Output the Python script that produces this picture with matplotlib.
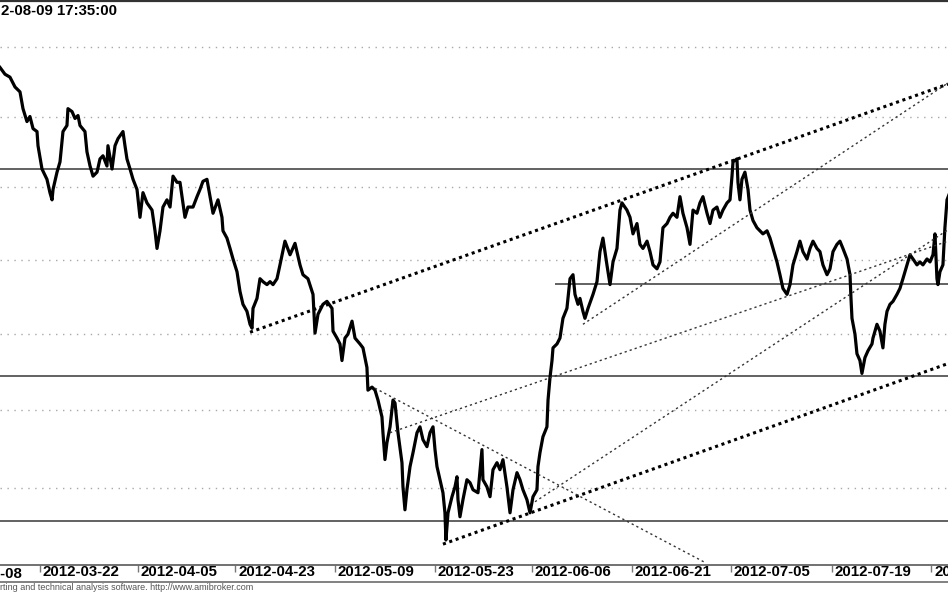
import matplotlib
matplotlib.use("Agg")
import matplotlib.pyplot as plt
from matplotlib.ticker import FixedLocator, NullLocator, NullFormatter
from matplotlib.lines import Line2D
from matplotlib.transforms import blended_transform_factory, ScaledTranslation

# ---- data (x = trading-day index from 2012-03-22, y = index level) ----
t_days = [
    -4.02, -3.52, -3.02, -2.51, -2.01, -1.71, -1.31, -1.01, -0.70, -0.30,
    -0.20, 0.20, 0.70, 1.00, 1.21, 1.31, 1.71, 2.01, 2.31, 2.71,
    2.81, 3.22, 3.52, 3.82, 4.02, 4.52, 4.72, 5.03, 5.33, 5.73,
    6.03, 6.33, 6.73, 6.83, 7.24, 7.54, 7.84, 8.34, 8.54, 8.74,
    9.05, 9.35, 9.75, 10.05, 10.35, 10.75, 11.26, 11.56, 11.76, 12.06,
    12.36, 12.76, 13.07, 13.37, 13.77, 14.07, 14.57, 14.87, 15.38, 15.78,
    16.08, 16.38, 16.78, 17.09, 17.39, 17.89, 18.29, 18.39, 18.79, 19.10,
    19.40, 19.80, 20.10, 20.40, 20.80, 21.11, 21.31, 21.41, 21.81, 22.11,
    22.41, 22.81, 23.12, 23.42, 23.82, 24.12, 24.62, 25.13, 25.63, 26.13,
    26.43, 26.93, 27.44, 27.64, 27.94, 28.44, 28.84, 29.35, 29.45, 29.85,
    30.15, 30.35, 30.65, 30.95, 31.36, 31.66, 32.16, 32.46, 32.86, 32.96,
    33.37, 33.67, 33.97, 34.37, 34.47, 34.67, 34.87, 35.18, 35.48, 35.68,
    35.98, 36.38, 36.48, 36.68, 36.88, 37.19, 37.49, 37.89, 38.19, 38.49,
    38.89, 39.20, 39.50, 39.70, 39.90, 40.20, 40.50, 40.70, 40.80, 41.01,
    41.41, 41.71, 41.91, 42.01, 42.21, 42.51, 42.91, 43.22, 43.52, 44.02,
    44.42, 44.52, 44.92, 45.23, 45.53, 45.93, 46.23, 46.53, 46.93, 47.24,
    47.54, 47.94, 48.24, 48.54, 48.94, 49.25, 49.55, 49.95, 50.05, 50.25,
    50.55, 50.95, 51.06, 51.26, 51.46, 51.56, 51.96, 52.26, 52.56, 52.96,
    53.27, 53.57, 53.77, 54.07, 54.27, 54.57, 54.77, 55.08, 55.58, 55.98,
    56.28, 56.58, 56.98, 57.29, 57.59, 57.99, 58.29, 58.49, 58.99, 59.30,
    59.60, 60.00, 60.30, 60.60, 61.01, 61.31, 61.61, 62.01, 62.31, 62.61,
    63.02, 63.32, 63.62, 64.02, 64.32, 64.62, 65.03, 65.33, 65.63, 66.03,
    66.33, 66.63, 67.04, 67.34, 67.64, 68.04, 68.34, 68.64, 69.05, 69.35,
    69.55, 69.65, 70.05, 70.15, 70.35, 70.55, 70.85, 71.16, 71.36, 71.66,
    72.06, 72.36, 72.66, 73.07, 73.37, 73.67, 74.07, 74.37, 74.67, 75.08,
    75.38, 75.68, 76.08, 76.38, 76.68, 77.09, 77.39, 77.69, 78.09, 78.39,
    78.69, 79.10, 79.40, 79.70, 80.10, 80.40, 80.70, 81.11, 81.41, 81.51,
    81.61, 81.91, 82.11, 82.41, 82.61, 82.91, 83.22, 83.62, 83.72, 84.12,
    84.42, 84.72, 84.92, 85.13, 85.43, 85.73, 86.13, 86.43, 86.73, 87.14,
    87.44, 87.74, 88.14, 88.44, 88.74, 89.15, 89.45, 89.75, 89.95, 90.15,
    90.25, 90.45, 90.75, 90.95, 91.16, 91.36,
]
price = [
    2385.2, 2380.3, 2378.2, 2371.1, 2367.6, 2355.6, 2346.4, 2350.0, 2341.4, 2339.3,
    2329.3, 2312.9, 2305.7, 2296.4, 2291.4, 2298.6, 2310.7, 2317.9, 2339.3, 2343.6,
    2355.6, 2353.5, 2348.6, 2350.7, 2343.6, 2339.3, 2325.0, 2315.0, 2307.9, 2310.7,
    2320.0, 2322.2, 2315.0, 2329.3, 2312.9, 2329.3, 2334.3, 2339.3, 2329.3, 2320.0,
    2312.9, 2305.7, 2298.6, 2279.3, 2296.4, 2289.3, 2284.3, 2270.0, 2257.9, 2270.0,
    2286.4, 2291.4, 2286.4, 2307.9, 2303.6, 2303.6, 2279.3, 2286.4, 2286.4, 2293.6,
    2298.6, 2304.3, 2305.7, 2293.6, 2282.1, 2291.4, 2279.3, 2270.0, 2265.0, 2257.9,
    2250.7, 2242.0, 2228.7, 2220.0, 2215.3, 2206.6, 2204.0, 2217.3, 2224.0, 2237.3,
    2235.3, 2233.3, 2235.3, 2233.3, 2237.3, 2246.7, 2262.9, 2253.6, 2261.4, 2246.7,
    2240.0, 2237.3, 2226.7, 2200.7, 2213.3, 2220.0, 2222.0, 2217.3, 2202.0, 2197.4,
    2193.5, 2182.5, 2197.4, 2200.0, 2208.7, 2197.4, 2193.5, 2190.9, 2177.9, 2163.0,
    2165.0, 2163.0, 2156.5, 2145.5, 2135.3, 2118.0, 2128.9, 2139.1, 2156.5, 2154.6,
    2135.3, 2116.0, 2100.6, 2086.0, 2098.7, 2113.5, 2122.4, 2135.3, 2139.1, 2130.8,
    2126.3, 2135.3, 2139.1, 2124.4, 2113.5, 2105.1, 2096.8, 2084.1, 2067.0, 2084.1,
    2094.3, 2100.6, 2107.0, 2092.4, 2081.6, 2092.4, 2105.1, 2103.2, 2098.7, 2096.8,
    2124.4, 2105.1, 2100.6, 2094.3, 2111.5, 2116.0, 2111.5, 2117.9, 2100.6, 2084.1,
    2098.7, 2109.6, 2105.1, 2098.7, 2092.4, 2084.1, 2094.3, 2098.7, 2113.5, 2122.4,
    2132.7, 2139.1, 2156.5, 2171.4, 2182.5, 2190.9, 2193.5, 2197.4, 2210.6, 2217.3,
    2237.3, 2240.0, 2226.7, 2220.0, 2224.0, 2215.3, 2210.6, 2217.3, 2226.7, 2235.3,
    2255.7, 2265.0, 2246.7, 2233.3, 2248.7, 2257.9, 2284.3, 2289.3, 2284.3, 2279.3,
    2267.9, 2275.0, 2260.7, 2257.9, 2262.9, 2255.7, 2246.7, 2244.0, 2248.7, 2272.1,
    2275.0, 2279.3, 2282.1, 2279.3, 2293.6, 2282.1, 2272.1, 2260.7, 2284.3, 2282.1,
    2289.3, 2293.6, 2282.1, 2275.0, 2284.3, 2286.4, 2279.3, 2284.3, 2289.3, 2291.4,
    2307.9, 2317.9, 2320.0, 2303.6, 2291.4, 2305.7, 2310.7, 2298.6, 2284.3, 2277.1,
    2272.1, 2270.0, 2267.9, 2270.0, 2265.0, 2257.9, 2248.7, 2240.0, 2230.7, 2226.7,
    2233.3, 2246.7, 2255.7, 2262.9, 2255.7, 2250.7, 2257.9, 2262.9, 2257.9, 2255.7,
    2246.7, 2240.0, 2244.0, 2255.7, 2260.7, 2262.9, 2257.9, 2250.7, 2240.0, 2224.0,
    2210.6, 2200.0, 2187.0, 2182.5, 2174.0, 2184.4, 2189.0, 2193.5, 2197.4, 2206.6,
    2202.0, 2190.9, 2206.6, 2215.3, 2220.0, 2222.0, 2226.7, 2230.7, 2237.3, 2246.7,
    2253.6, 2250.7, 2246.7, 2248.7, 2246.7, 2250.7, 2248.7, 2253.6, 2267.9, 2237.3,
    2233.3, 2242.0, 2246.7, 2272.1, 2291.4, 2295.0,
]

grid_levels = [2100, 2150, 2200, 2250, 2300, 2350, 2400]
# horizontal support/resistance levels and their start day (None = full width)
level_values = [2312.9, 2234.0, 2172.1, 2079.0]
level_starts = [None, 51.8, None, None]
# trend lines: ((day1, price1), (day2, price2))
trend_thick = [((21.11, 2201.3), (91.26, 2373.2)),
               ((40.50, 2064.4), (91.26, 2180.5))]
trend_thin = [((33.67, 2164.3), (66.83, 2053.0)),
              ((35.18, 2135.3), (91.26, 2262.9)),
              ((49.75, 2091.1), (91.26, 2270.7)),
              ((54.57, 2206.6), (91.26, 2374.0))]
tick_pos = [-9.8, 0, 9.8, 19.6, 29.6, 39.7, 49.4, 59.5, 69.4, 79.6, 89.6]
tick_labels = ["2012-03-08", "2012-03-22", "2012-04-05", "2012-04-23", "2012-05-09",
               "2012-05-23", "2012-06-06", "2012-06-21", "2012-07-05", "2012-07-19",
               "2012-08-02"]
x_range = (-4.02, 91.26)
y_range = (2051.4, 2433.7)

title_text = "2-08-09 17:35:00"
footer_text = "rting and technical analysis software. http://www.amibroker.com"

# ---- figure ----
W, H = 948, 593
fig = plt.figure(figsize=(W / 100, H / 100), dpi=100)
fig.patch.set_facecolor("white")
ax = fig.add_axes([0, 28 / H, 1, 1 - 28 / H - 1 / H])
ax.set_yscale("log")

# grid
ax.yaxis.set_major_locator(FixedLocator(grid_levels))
ax.yaxis.set_minor_locator(NullLocator())
ax.yaxis.set_major_formatter(NullFormatter())
ax.yaxis.set_minor_formatter(NullFormatter())
ax.tick_params(axis="y", which="both", length=0)
ax.grid(axis="y", color="#a8a8a8", linestyle=(0, (1, 4)), linewidth=1.0)
ax.set_axisbelow(True)

# level lines
for lv, st in zip(level_values, level_starts):
    x0 = x_range[0] if st is None else st
    ax.hlines(lv, x0, x_range[1], colors="#555555", linewidth=1.3, zorder=2)

# price
ax.plot(t_days, price, color="black", linewidth=2.3, solid_joinstyle="round", zorder=4)

# trend lines
for (p1, p2) in trend_thick:
    ax.plot([p1[0], p2[0]], [p1[1], p2[1]], color="black", linewidth=2.2,
            linestyle=(0, (1, 1.2)), zorder=5)
for (p1, p2) in trend_thin:
    ax.plot([p1[0], p2[0]], [p1[1], p2[1]], color="#333333", linewidth=1.0,
            linestyle=(0, (1.6, 2.2)), zorder=5)

# x axis ticks (those inside the view go through the axis; the first lies left of it)
inside = [(p, l) for p, l in zip(tick_pos, tick_labels) if x_range[0] <= p <= x_range[1]]
outside = [(p, l) for p, l in zip(tick_pos, tick_labels) if not (x_range[0] <= p <= x_range[1])]
ax.set_xticks([p for p, _ in inside])
ax.set_xticklabels([l for _, l in inside], fontsize=10.8, fontweight="bold",
                   fontfamily="Liberation Sans", color="black")
ax.tick_params(axis="x", direction="out", length=5, width=1, color="#777777", pad=-5)
ax.set_xlim(*x_range)
ax.set_ylim(*y_range)
shift = ScaledTranslation(3 / 100, 0, fig.dpi_scale_trans)
for lab in ax.get_xticklabels():
    lab.set_horizontalalignment("left")
    lab.set_transform(lab.get_transform() + shift)

trans = blended_transform_factory(ax.transData, ax.transAxes) + shift
for p, l in outside:
    ax.text(p, -0.003, l, transform=trans, ha="left", va="top", fontsize=10.8,
            fontweight="bold", fontfamily="Liberation Sans", color="black", clip_on=False)

for s in ["left", "right"]:
    ax.spines[s].set_visible(False)
ax.spines["top"].set_color("#333333")
ax.spines["top"].set_linewidth(1.6)
ax.spines["bottom"].set_color("#666666")
ax.spines["bottom"].set_linewidth(1.3)

# second line below the date strip
fig.add_artist(Line2D([0, 1], [(H - 582) / H, (H - 582) / H], transform=fig.transFigure,
                      color="#777777", linewidth=1.3))

fig.text(1 / W, 1 - 11 / H, title_text, ha="left", va="center", fontsize=10.8,
         fontweight="bold", fontfamily="Liberation Sans", color="black")
fig.text(0, (H - 588) / H, footer_text, ha="left", va="center", fontsize=6.5,
         fontfamily="Liberation Sans", color="#555555")

fig.savefig("out.png", dpi=100, facecolor="white")
